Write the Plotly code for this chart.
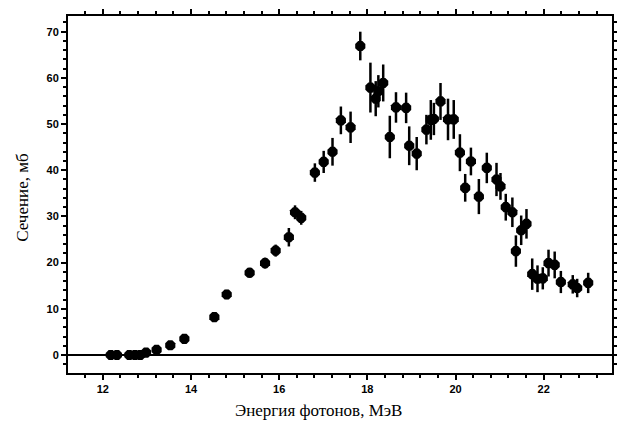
import plotly.graph_objects as go

# Photon energy, MeV
energy = [12.18, 12.32, 12.60, 12.73, 12.85, 12.98, 13.22, 13.53, 13.85, 14.53,
          14.81, 15.33, 15.68, 15.92, 16.22, 16.36, 16.50, 16.81, 17.01, 17.21,
          17.40, 17.62, 17.84, 18.07, 18.19, 18.25, 18.36, 18.51, 18.65, 18.88,
          18.95, 19.12, 19.34, 19.44, 19.51, 19.66, 19.83, 19.96, 20.10, 20.22,
          20.35, 20.53, 20.71, 20.93, 21.02, 21.14, 21.29, 21.37, 21.49, 21.61,
          21.74, 21.86, 21.98, 22.11, 22.25, 22.39, 22.66, 22.76, 23.01]
# Cross section, mb
cross_section = [0.0, 0.0, 0.0, 0.0, 0.0, 0.5, 1.1, 2.1, 3.5, 8.2,
                 13.1, 17.8, 19.9, 22.6, 25.5, 30.9, 29.7, 39.5, 41.8, 44.0,
                 50.8, 49.3, 66.9, 57.9, 55.5, 57.1, 58.9, 47.2, 53.6, 53.5,
                 45.3, 43.6, 48.8, 50.9, 51.1, 54.9, 51.0, 51.0, 43.8, 36.2,
                 41.9, 34.3, 40.5, 38.0, 36.5, 32.0, 30.9, 22.5, 27.0, 28.4,
                 17.5, 16.5, 16.6, 19.9, 19.5, 15.8, 15.3, 14.5, 15.6]
# Error, mb
errors = [0.3, 0.3, 0.3, 0.3, 0.3, 0.4, 0.5, 0.6, 0.7, 0.9,
          1.0, 1.1, 1.2, 1.3, 2.0, 1.5, 1.5, 2.0, 2.4, 3.0,
          3.0, 3.4, 3.1, 5.4, 3.8, 3.5, 4.0, 4.6, 3.3, 3.3,
          4.2, 3.6, 3.2, 4.3, 3.5, 4.0, 4.5, 4.2, 4.0, 3.0,
          3.0, 3.8, 3.3, 3.6, 2.9, 2.9, 3.2, 3.4, 3.2, 3.2,
          3.4, 2.9, 2.4, 2.9, 2.9, 2.4, 2.0, 2.0, 2.2]

x_ticks = [12, 14, 16, 18, 20, 22]
y_ticks = [0, 10, 20, 30, 40, 50, 60, 70]

fig = go.Figure()
fig.add_trace(go.Scatter(
    x=energy, y=cross_section, mode="markers",
    marker=dict(symbol="octagon", size=11, color="black", line=dict(width=0)),
    error_y=dict(type="data", array=errors, visible=True, color="black",
                 thickness=2.5, width=0),
    showlegend=False,
))

tickfont = dict(family="Liberation Sans", size=11, color="black", weight="bold")

fig.update_xaxes(
    range=[11.21, 23.55], tickvals=x_ticks, ticktext=[str(v) for v in x_ticks],
    showgrid=False, zeroline=False, showline=True, linecolor="black", linewidth=2,
    mirror="allticks", ticks="outside", ticklen=5, tickwidth=2, tickcolor="black",
    minor=dict(dtick=0.4, tick0=12, ticks="outside", ticklen=3, tickwidth=2,
               tickcolor="black", showgrid=False),
    tickfont=tickfont, automargin=False,
)
fig.update_yaxes(
    range=[-3.9, 73.4], tickvals=y_ticks, ticktext=[str(v) for v in y_ticks],
    showgrid=False, zeroline=True, zerolinecolor="black", zerolinewidth=2,
    showline=True, linecolor="black", linewidth=2,
    mirror="allticks", ticks="outside", ticklen=5, tickwidth=2, tickcolor="black",
    minor=dict(dtick=2, tick0=0, ticks="outside", ticklen=3, tickwidth=2,
               tickcolor="black", showgrid=False),
    tickfont=tickfont, automargin=False,
)

fig.add_annotation(
    text="Энергия фотонов, МэВ", xref="paper", yref="paper",
    x=0.46, y=-0.104, xanchor="center", yanchor="middle", showarrow=False,
    font=dict(family="Liberation Serif", size=17, color="black"),
)
fig.add_annotation(
    text="Сечение, мб", xref="paper", yref="paper",
    x=-0.085, y=0.49, xanchor="center", yanchor="middle", showarrow=False,
    textangle=-90,
    font=dict(family="Liberation Serif", size=17, color="black"),
)

fig.update_layout(
    width=617, height=423,
    margin=dict(l=68, r=5, t=16, b=50),
    paper_bgcolor="white", plot_bgcolor="white",
)

fig.write_html(
    "out.html",
    config={"displayModeBar": False},
    post_script="document.body.style.margin='0';document.body.style.overflow='hidden';",
)
